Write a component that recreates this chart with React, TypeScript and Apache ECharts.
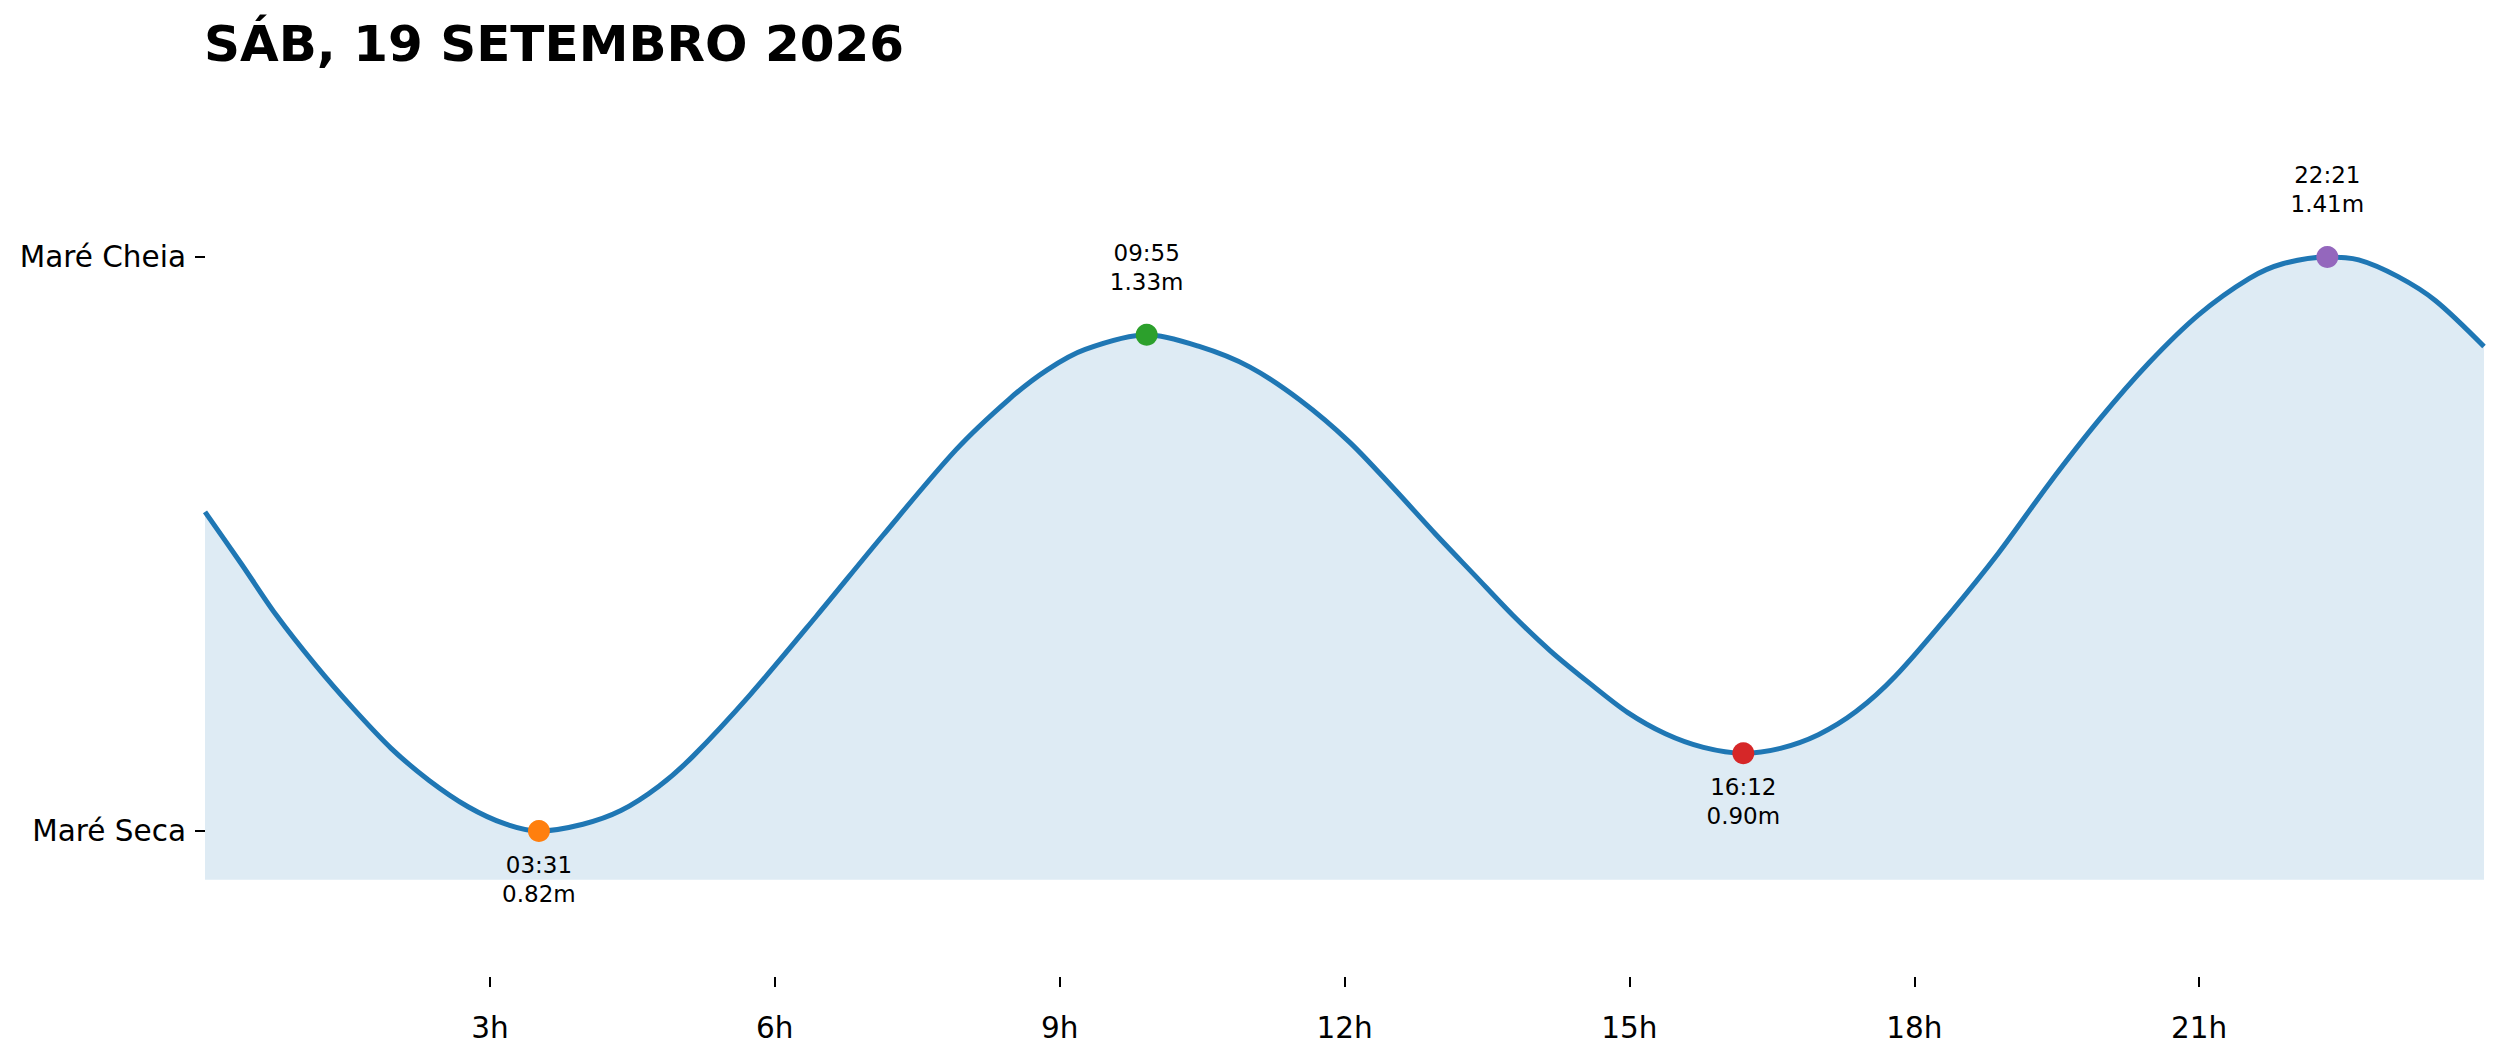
import React, { useEffect, useRef } from "react";
import * as echarts from "echarts";

const titleText = "SÁB, 19 SETEMBRO 2026";

// tide curve readings: hour of day, height (m)
const curveHours = [
  0.0, 0.38, 0.75, 1.16, 1.56, 1.96, 2.36, 2.77, 3.17, 3.52, 3.98, 4.38, 4.78, 5.14, 5.74, 6.44,
  7.14, 7.91, 8.47, 8.87, 9.27, 9.92, 10.47, 11.0, 11.53, 12.05, 12.51, 12.96, 13.37,
  13.77, 14.17, 14.58, 14.98, 15.38, 15.78, 16.2, 16.59, 16.99, 17.39, 17.8, 18.37, 18.89, 19.42,
  19.95, 20.47, 21.0, 21.53, 21.88, 22.35, 22.68, 23.09, 23.49, 24.0,
];
const curveHeights = [
  1.148, 1.095, 1.042, 0.991, 0.946, 0.905, 0.872, 0.845, 0.827, 0.82, 0.827, 0.841, 0.866, 0.897,
  0.96, 1.041, 1.124, 1.212, 1.264, 1.294, 1.315, 1.33, 1.318, 1.297, 1.263, 1.22,
  1.173, 1.125, 1.083, 1.042, 1.005, 0.972, 0.942, 0.92, 0.906, 0.9, 0.905, 0.919, 0.943, 0.979,
  1.043, 1.106, 1.177, 1.243, 1.301, 1.351, 1.388, 1.403, 1.41, 1.407, 1.39, 1.365, 1.318,
];

// extremes
const extremeTimes = ["03:31", "09:55", "16:12", "22:21"];
const extremeHeights = [0.82, 1.33, 0.9, 1.41];
const extremeKinds = ["low", "high", "low", "high"];
const extremeColors = ["#ff7f0e", "#2ca02c", "#d62728", "#9467bd"];

// axes
const xTickHours = [3, 6, 9, 12, 15, 18, 21];
const yTickLabels = ["Maré Seca", "Maré Cheia"];

const FONT = "DejaVu Sans";

export default function App() {
  const ref = useRef<HTMLDivElement>(null);

  useEffect(() => {
    document.body.style.margin = "0";
    if (!ref.current) return;
    const chart = echarts.init(ref.current, null, { renderer: "svg" });

    const lowest = Math.min(...extremeHeights);
    const highest = Math.max(...extremeHeights);
    const yTicks = [lowest, highest];

    const toHour = (t: string) => {
      const [h, m] = t.split(":").map(Number);
      return h + m / 60;
    };

    const scatterData = extremeTimes.map((t, i) => ({
      value: [toHour(t), extremeHeights[i]],
      itemStyle: { color: extremeColors[i], opacity: 1 },
      label: {
        show: true,
        position: extremeKinds[i] === "low" ? "bottom" : "top",
        distance: extremeKinds[i] === "low" ? 9 : 28,
        formatter: `${t}\n${extremeHeights[i].toFixed(2)}m`,
        fontFamily: FONT,
        fontSize: 23,
        lineHeight: 28.5,
        color: "#000",
        align: "center",
      },
    }));

    chart.setOption({
      animation: false,
      backgroundColor: "#fff",
      title: {
        text: titleText,
        left: 199,
        top: 14,
        textStyle: { fontFamily: FONT, fontSize: 50, fontWeight: "bold", color: "#000" },
      },
      grid: { left: 205, right: 17, top: 111, bottom: 85, containLabel: false },
      xAxis: {
        type: "value",
        min: 0,
        max: 24,
        interval: 3,
        axisLine: { show: false },
        splitLine: { show: false },
        axisTick: {
          show: true,
          customValues: xTickHours,
          length: 10,
          lineStyle: { color: "#000", width: 2 },
        },
        axisLabel: {
          customValues: xTickHours,
          formatter: (v: number) => `${v}h`,
          margin: 36,
          fontFamily: FONT,
          fontSize: 29.5,
          color: "#000",
        },
      },
      yAxis: {
        type: "value",
        min: 0.67,
        max: 1.56,
        axisLine: { show: false },
        splitLine: { show: false },
        axisTick: {
          show: true,
          customValues: yTicks,
          length: 10,
          lineStyle: { color: "#000", width: 2 },
        },
        axisLabel: {
          customValues: yTicks,
          formatter: (v: number) => (Math.abs(v - lowest) < 1e-6 ? yTickLabels[0] : yTickLabels[1]),
          margin: 19,
          fontFamily: FONT,
          fontSize: 29.5,
          color: "#000",
        },
      },
      series: [
        {
          type: "line",
          data: curveHours.map((h, i) => [h, curveHeights[i]]),
          showSymbol: false,
          smooth: 0.3,
          lineStyle: { color: "#1f77b4", width: 5, join: "round" },
          areaStyle: { color: "#1f77b4", opacity: 0.15, origin: lowest - 0.05 },
          z: 2,
        },
        {
          type: "scatter",
          data: scatterData,
          symbol: "circle",
          symbolSize: 22,
          z: 3,
        },
      ],
    });

    return () => chart.dispose();
  }, []);

  return (
    <div
      ref={ref}
      style={{ position: "absolute", left: 0, top: 0, width: 2501, height: 1062 }}
    />
  );
}
